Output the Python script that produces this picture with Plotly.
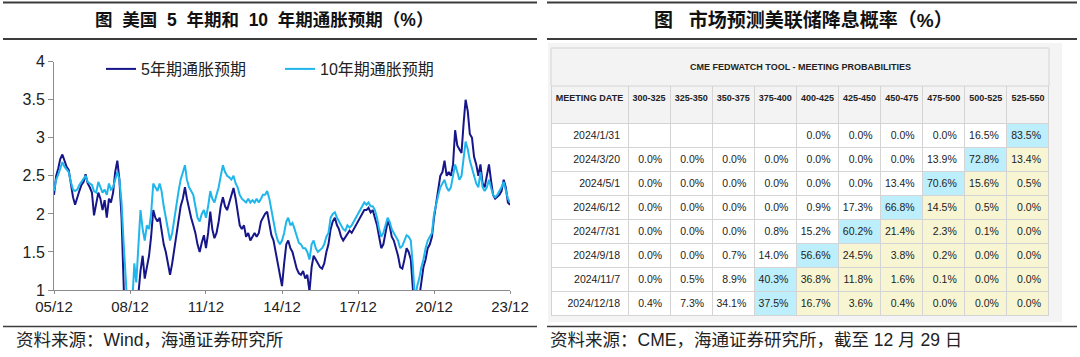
import pandas as pd
import plotly.graph_objects as go

W, H = 1080, 357

# ---------------- data: US breakeven inflation (monthly, Dec-2005 .. Dec-2023) ----------------
dates = pd.date_range("2005-12-01", periods=217, freq="MS")

be5 = [
    2.25, 2.50, 2.60, 2.72, 2.78, 2.70, 2.62, 2.58, 2.40, 2.22, 2.12, 2.22,
    2.30, 2.38, 2.42, 2.52, 2.40, 2.35, 2.28, 1.98, 2.15, 2.28, 2.20, 2.05,
    2.18, 1.95, 2.20, 2.15, 2.28, 2.55, 2.70, 2.45, 1.95, 0.90, 0.00, -1.00,
    -1.60, -0.60, 0.20, 0.70, 0.95, 1.25, 1.45, 1.15, 1.30, 1.45, 1.70, 2.05,
    1.95, 1.90, 1.95, 1.80, 1.60, 1.50, 1.35, 1.20, 1.35, 1.55, 1.75, 1.95,
    2.10, 2.20, 2.35, 2.20, 2.05, 1.95, 1.85, 1.75, 1.60, 1.50, 1.62, 1.72,
    1.55, 1.75, 2.03, 1.80, 1.68, 1.75, 1.90, 2.10, 2.22, 2.10, 2.05, 2.15,
    2.25, 2.34, 2.20, 2.05, 1.85, 1.80, 1.85, 1.70, 1.75, 1.65, 1.70, 1.75,
    1.70, 1.75, 1.90, 1.95, 2.00, 2.03, 1.85, 1.72, 1.65, 1.50, 1.35, 1.20,
    1.05, 1.35, 1.60, 1.65, 1.55, 1.50, 1.40, 1.28, 1.22, 1.20, 1.25, 1.15,
    1.20, 0.98, 1.30, 1.45, 1.40, 1.35, 1.30, 1.28, 1.35, 1.50, 1.60, 1.80,
    1.90, 1.95, 1.85, 1.80, 1.70, 1.65, 1.70, 1.75, 1.78, 1.75, 1.80, 1.85,
    1.90, 1.95, 2.00, 2.05, 2.05, 2.08, 2.02, 2.05, 1.95, 1.85, 1.70, 1.55,
    1.60, 1.75, 1.90, 1.85, 1.70, 1.65, 1.55, 1.45, 1.30, 1.28, 1.40, 1.55,
    1.50, 1.40, 1.00, 0.40, 0.60, 0.90, 1.10, 1.30, 1.40, 1.55, 1.60, 1.70,
    1.95, 2.15, 2.30, 2.50, 2.55, 2.70, 2.50, 2.55, 2.50, 2.65, 3.10, 2.90,
    2.85, 2.80, 3.20, 3.50, 3.35, 3.05, 3.00, 2.75, 2.65, 2.50, 2.65, 2.40,
    2.35, 2.50, 2.65, 2.45, 2.25, 2.20, 2.22, 2.25, 2.30, 2.45, 2.35, 2.15,
    2.12,
]

be10 = [
    2.30, 2.45, 2.52, 2.60, 2.68, 2.62, 2.58, 2.55, 2.42, 2.32, 2.30, 2.32,
    2.38, 2.42, 2.45, 2.50, 2.42, 2.40, 2.38, 2.30, 2.28, 2.42, 2.35, 2.28,
    2.32, 2.25, 2.40, 2.32, 2.35, 2.45, 2.55, 2.45, 2.15, 1.60, 0.80, 0.50,
    0.20, 0.80, 1.35, 1.10, 1.55, 2.05, 1.80, 1.65, 1.85, 1.80, 2.00, 2.40,
    2.35, 2.30, 2.40, 2.30, 2.10, 1.95, 1.80, 1.65, 1.75, 1.95, 2.12, 2.30,
    2.45, 2.55, 2.64, 2.45, 2.35, 2.30, 2.25, 2.10, 1.95, 1.90, 2.00, 2.05,
    1.95, 2.10, 2.30, 2.20, 2.15, 2.25, 2.35, 2.50, 2.64, 2.55, 2.50, 2.48,
    2.45, 2.50, 2.40, 2.35, 2.25, 2.20, 2.18, 2.15, 2.20, 2.15, 2.18, 2.15,
    2.20, 2.15, 2.20, 2.25, 2.25, 2.30, 2.20, 2.05, 1.85, 1.75, 1.65, 1.60,
    1.65, 1.75, 1.90, 1.95, 1.85, 1.88, 1.80, 1.70, 1.62, 1.60, 1.55, 1.55,
    1.50, 1.40, 1.60, 1.65, 1.55, 1.50, 1.52, 1.55, 1.60, 1.70, 1.75, 1.95,
    2.00, 2.02, 1.95, 1.90, 1.85, 1.80, 1.78, 1.85, 1.82, 1.85, 1.90, 1.95,
    2.00, 2.05, 2.10, 2.15, 2.12, 2.15, 2.10, 2.10, 2.05, 1.95, 1.80, 1.70,
    1.75, 1.85, 1.95, 1.90, 1.80, 1.75, 1.70, 1.65, 1.55, 1.58, 1.65, 1.72,
    1.70, 1.65, 1.30, 0.85, 1.05, 1.15, 1.30, 1.40, 1.55, 1.65, 1.70, 1.75,
    2.00, 2.15, 2.25, 2.35, 2.40, 2.45, 2.35, 2.30, 2.35, 2.50, 2.65, 2.55,
    2.45, 2.50, 2.75, 2.95, 2.85, 2.70, 2.60, 2.50, 2.40, 2.35, 2.55, 2.35,
    2.30, 2.35, 2.45, 2.35, 2.25, 2.22, 2.25, 2.30, 2.35, 2.42, 2.30, 2.20,
    2.15,
]

x_tick_dates = ["2005-12-01", "2008-12-01", "2011-12-01", "2014-12-01",
                "2017-12-01", "2020-12-01", "2023-12-01"]
y_ticks = [1, 1.5, 2, 2.5, 3, 3.5, 4]

# ---------------- data: CME FedWatch table ----------------
meeting_dates = ["2024/1/31", "2024/3/20", "2024/5/1", "2024/6/12",
                 "2024/7/31", "2024/9/18", "2024/11/7", "2024/12/18"]
rate_ranges = ["300-325", "325-350", "350-375", "375-400", "400-425",
               "425-450", "450-475", "475-500", "500-525", "525-550"]
probs = [
    [None, None, None, None, 0.0, 0.0, 0.0, 0.0, 16.5, 83.5],
    [0.0, 0.0, 0.0, 0.0, 0.0, 0.0, 0.0, 13.9, 72.8, 13.4],
    [0.0, 0.0, 0.0, 0.0, 0.0, 0.0, 13.4, 70.6, 15.6, 0.5],
    [0.0, 0.0, 0.0, 0.0, 0.9, 17.3, 66.8, 14.5, 0.5, 0.0],
    [0.0, 0.0, 0.0, 0.8, 15.2, 60.2, 21.4, 2.3, 0.1, 0.0],
    [0.0, 0.0, 0.7, 14.0, 56.6, 24.5, 3.8, 0.2, 0.0, 0.0],
    [0.0, 0.5, 8.9, 40.3, 36.8, 11.8, 1.6, 0.1, 0.0, 0.0],
    [0.4, 7.3, 34.1, 37.5, 16.7, 3.6, 0.4, 0.0, 0.0, 0.0],
]

# ---------------- styles ----------------
FONT = "Liberation Sans, Arial, Noto Sans CJK SC, sans-serif"
NAVY = "#16168a"
SKY = "#1fb6ec"
CYAN = "#bdeefb"
YELLOW = "#f8f6d2"
GRID = "#d4d4d4"


def px(x):
    return x / W


def py(y):
    return 1 - y / H


fig = go.Figure()

fig.add_trace(go.Scatter(x=dates, y=be5, mode="lines", name="5年期通胀预期",
                         line=dict(color=NAVY, width=2)))
fig.add_trace(go.Scatter(x=dates, y=be10, mode="lines", name="10年期通胀预期",
                         line=dict(color=SKY, width=2)))

# table cells
col_text = [meeting_dates]
col_fill = [["#ffffff"] * len(meeting_dates)]
for j in range(len(rate_ranges)):
    col_text.append(["" if r[j] is None else f"{r[j]:.1f}%" for r in probs])
    fills = []
    for r in probs:
        vals = [v if v is not None else -1 for v in r]
        k = vals.index(max(vals))
        fills.append(CYAN if j == k else (YELLOW if j > k else "#ffffff"))
    col_fill.append(fills)

fig.add_trace(go.Table(
    domain=dict(x=[px(551), px(1049)], y=[py(321), py(85)]),
    columnwidth=[77] + [42.1] * len(rate_ranges),
    header=dict(values=["<b>MEETING\u00a0DATE</b>"] + [f"<b>{r}</b>" for r in rate_ranges],
                fill_color="#f3f3f3", line_color=GRID, height=38, align="center",
                font=dict(family=FONT, size=9, color="#222222")),
    cells=dict(values=col_text, fill_color=col_fill, line_color=GRID, height=24,
               align="right", font=dict(family=FONT, size=10.5, color="#222222")),
))

fig.update_layout(
    width=W, height=H, autosize=False,
    margin=dict(l=0, r=0, t=0, b=0, autoexpand=False),
    paper_bgcolor="white", plot_bgcolor="white",
    font=dict(family=FONT, color="#111111"),
    showlegend=True,
    legend=dict(orientation="h", x=px(101), y=py(52), xanchor="left", yanchor="top",
                font=dict(family=FONT, size=16, color="#222222"),
                bgcolor="rgba(0,0,0,0)", entrywidth=134, entrywidthmode="pixels"),
    xaxis=dict(domain=[px(54), px(510)], range=["2005-12-01", "2023-12-01"],
               tickvals=x_tick_dates, tickformat="%y/%m", showgrid=False,
               showline=True, linecolor="#8c8c8c", linewidth=1,
               ticks="outside", ticklen=3, tickcolor="#8c8c8c", automargin=False,
               tickfont=dict(size=15, color="#222222"), zeroline=False),
    yaxis=dict(domain=[py(290), py(61.7)], range=[1, 4], tickvals=y_ticks,
               showgrid=False, showline=True, linecolor="#8c8c8c", linewidth=1,
               ticks="outside", ticklen=5, tickcolor="#8c8c8c", automargin=False,
               tickfont=dict(size=16, color="#222222"), zeroline=False),
)

shapes = []
# rules
for x0, x1 in [(3, 537), (547, 1077)]:
    shapes.append(dict(type="line", xref="paper", yref="paper", x0=px(x0), x1=px(x1),
                       y0=py(2.5), y1=py(2.5), line=dict(color="#3c3c3c", width=2)))
    shapes.append(dict(type="line", xref="paper", yref="paper", x0=px(x0), x1=px(x1),
                       y0=py(39), y1=py(39), line=dict(color="#3c3c3c", width=2)))
    shapes.append(dict(type="line", xref="paper", yref="paper", x0=px(x0), x1=px(x1),
                       y0=py(326.5), y1=py(326.5), line=dict(color="#3c3c3c", width=1.5)))
# table background and title row
shapes.append(dict(type="rect", xref="paper", yref="paper", x0=px(548), x1=px(1062),
                   y0=py(322), y1=py(43), fillcolor="#f4f4f4", line=dict(width=0),
                   layer="below"))
shapes.append(dict(type="rect", xref="paper", yref="paper", x0=px(551), x1=px(1049),
                   y0=py(86), y1=py(48), fillcolor="#f3f3f3",
                   line=dict(color=GRID, width=1)))
fig.update_layout(shapes=shapes)

ann = [
    dict(text="<b>图  美国  5  年期和  10  年期通胀预期（%）</b>", x=px(264), y=py(20),
         font=dict(size=17.5, color="#111111")),
    dict(text="<b>图   市场预测美联储降息概率（%）</b>", x=px(803), y=py(20),
         font=dict(size=19, color="#111111")),
    dict(text="<b>CME FEDWATCH TOOL - MEETING PROBABILITIES</b>", x=px(800), y=py(67),
         font=dict(size=9, color="#222222")),
    dict(text="资料来源：Wind，海通证券研究所", x=px(14), y=py(340), xanchor="left",
         font=dict(size=17.5, color="#222222")),
    dict(text="资料来源：CME，海通证券研究所，截至 12 月 29 日", x=px(548), y=py(340),
         xanchor="left", font=dict(size=17.5, color="#222222")),
]
for a in ann:
    a.setdefault("xanchor", "center")
    a.update(xref="paper", yref="paper", yanchor="middle", showarrow=False)
fig.update_layout(annotations=ann)

fig.write_html("out.html", config={"displayModeBar": False},
               post_script="document.body.style.margin='0';")
